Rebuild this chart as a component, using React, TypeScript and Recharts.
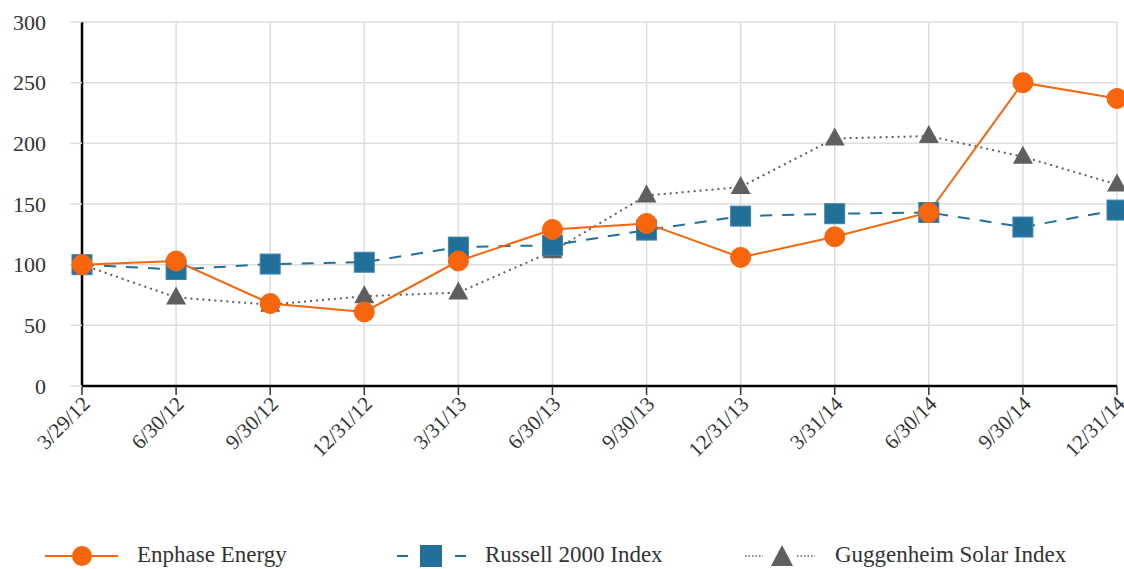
import { LineChart, Line, XAxis, YAxis, CartesianGrid, Legend } from "recharts";

const dates = [
  "3/29/12", "6/30/12", "9/30/12", "12/31/12", "3/31/13", "6/30/13",
  "9/30/13", "12/31/13", "3/31/14", "6/30/14", "9/30/14", "12/31/14",
];
const enphase = [100, 103, 68, 61, 103, 129, 134, 106, 123, 143, 250, 237];
const russell = [100, 96, 100.5, 102, 114.5, 116, 128.5, 140, 142, 143, 131, 145];
const guggenheim = [100, 73, 67, 74, 77, 111, 157, 164, 204, 206, 189, 166];
const yTicks = [0, 50, 100, 150, 200, 250, 300];

const data = dates.map((d, i) => ({
  date: d,
  enphase: enphase[i],
  russell: russell[i],
  guggenheim: guggenheim[i],
}));

const ORANGE = "#f7650c";
const BLUE = "#22709a";
const GREY = "#5f5f5f";
const FONT = "Liberation Serif, Tinos, Times New Roman, DejaVu Serif, serif";

const Square = (props: any) => {
  const { cx, cy } = props;
  if (cx == null || cy == null) return null;
  return <rect x={cx - 10} y={cy - 10} width={20} height={20} fill={BLUE} stroke="#3d86ad" strokeWidth={1} />;
};

const Triangle = (props: any) => {
  const { cx, cy } = props;
  if (cx == null || cy == null) return null;
  return <path d={`M${cx},${cy - 11} L${cx + 10},${cy + 7} L${cx - 10},${cy + 7} Z`} fill={GREY} />;
};

const DateTick = (props: any) => {
  const { x, y, payload } = props;
  const ax = x + 4;
  const ay = y + 5;
  return (
    <text
      x={ax}
      y={ay}
      transform={`rotate(-45, ${ax}, ${ay})`}
      textAnchor="end"
      dy="0.35em"
      fill="#333"
      fontSize={21}
      fontFamily={FONT}
    >
      {payload.value}
    </text>
  );
};

function LegendContent() {
  const text = { position: "absolute" as const, top: 0, fontFamily: FONT, fontSize: 23, color: "#333", lineHeight: "28px" };
  return (
    <div style={{ position: "relative", width: 1124, height: 30 }}>
      <svg width={1124} height={30} style={{ position: "absolute", left: 0, top: 0 }}>
        <line x1={45} x2={118} y1={15} y2={15} stroke={ORANGE} strokeWidth={2} />
        <circle cx={82} cy={15} r={10} fill={ORANGE} />
        <line x1={397} x2={408} y1={15} y2={15} stroke={BLUE} strokeWidth={2} />
        <rect x={420} y={4} width={22} height={22} fill={BLUE} />
        <line x1={455} x2={466} y1={15} y2={15} stroke={BLUE} strokeWidth={2} />
        <line x1={745} x2={763} y1={15} y2={15} stroke={GREY} strokeWidth={1.5} strokeDasharray="1.5 2" />
        <path d="M782,4 L793,25 L771,25 Z" fill={GREY} />
        <line x1={797} x2={815} y1={15} y2={15} stroke={GREY} strokeWidth={1.5} strokeDasharray="1.5 2" />
      </svg>
      <span style={{ ...text, left: 137 }}>Enphase Energy</span>
      <span style={{ ...text, left: 485 }}>Russell 2000 Index</span>
      <span style={{ ...text, left: 835 }}>Guggenheim Solar Index</span>
    </div>
  );
}

export default function App() {
  return (
    <div style={{ position: "absolute", left: 0, top: 0, background: "#fff" }}>
      <LineChart width={1124} height={569} data={data} margin={{ top: 22, right: 7, bottom: 0, left: 0 }}>
        <CartesianGrid stroke="#dedede" strokeWidth={1.5} />
        <XAxis
          dataKey="date"
          interval={0}
          height={153}
          padding={{ left: 0, right: 0 }}
          axisLine={{ stroke: "#000", strokeWidth: 2.5 }}
          tickLine={{ stroke: "#333", strokeWidth: 1.5 }}
          tickSize={9}
          tickMargin={0}
          tick={<DateTick />}
        />
        <YAxis
          domain={[0, 300]}
          ticks={yTicks}
          width={82}
          axisLine={{ stroke: "#000", strokeWidth: 2.5 }}
          tickLine={{ stroke: "#dedede", strokeWidth: 1.5 }}
          tickSize={12}
          tickMargin={24}
          tick={{ fill: "#333", fontSize: 22, fontFamily: FONT }}
        />
        <Legend
          verticalAlign="bottom"
          content={<LegendContent />}
          wrapperStyle={{ left: 0, top: 541, width: 1124 }}
        />
        <Line
          dataKey="guggenheim"
          stroke={GREY}
          strokeWidth={2}
          strokeDasharray="2 4"
          dot={<Triangle />}
          isAnimationActive={false}
        />
        <Line
          dataKey="russell"
          stroke={BLUE}
          strokeWidth={2}
          strokeDasharray="12 10"
          dot={<Square />}
          isAnimationActive={false}
        />
        <Line
          dataKey="enphase"
          stroke={ORANGE}
          strokeWidth={2}
          dot={{ r: 10, fill: ORANGE, stroke: ORANGE, strokeWidth: 1 }}
          isAnimationActive={false}
        />
      </LineChart>
    </div>
  );
}
